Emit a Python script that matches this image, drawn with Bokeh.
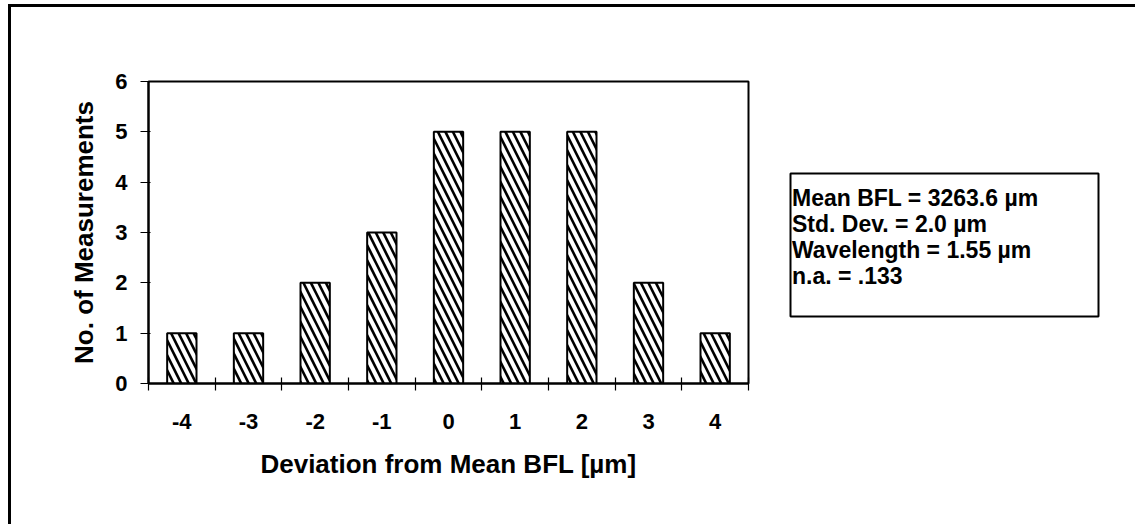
from bokeh.plotting import figure
from bokeh.layouts import row
from bokeh.models import FixedTicker, Range1d, ColumnDataSource
from bokeh.core.properties import value
from bokeh.embed import file_html
from bokeh.resources import INLINE

# Histogram of back focal length deviations
deviations = [-4, -3, -2, -1, 0, 1, 2, 3, 4]
counts = [1, 1, 2, 3, 5, 5, 5, 2, 1]
bin_edges = [-4.5, -3.5, -2.5, -1.5, -0.5, 0.5, 1.5, 2.5, 3.5, 4.5]
y_ticks = [0, 1, 2, 3, 4, 5, 6]
stats_lines = [
    "Mean BFL = 3263.6 \u00b5m",
    "Std. Dev. = 2.0 \u00b5m",
    "Wavelength = 1.55 \u00b5m",
    "n.a. = .133",
]
x_title = "Deviation from Mean BFL [\u00b5m]"
y_title = "No. of Measurements"

FONT = "Liberation Sans"

# main chart canvas and frame geometry (pixels)
W, H = 769, 517
FL, FR, FT, FB = 137, 737, 74, 376

p = figure(
    width=W, height=H,
    x_range=Range1d(-4.5, 4.5), y_range=Range1d(0, 6),
    output_backend="svg", toolbar_location=None,
    min_border_left=FL, min_border_right=W - FR,
    min_border_top=FT, min_border_bottom=H - FB,
)
p.background_fill_color = "white"
p.border_fill_color = "white"
p.outline_line_color = "black"
p.outline_line_width = 2
p.xgrid.grid_line_color = None
p.ygrid.grid_line_color = None

p.vbar(
    x=deviations, top=counts, bottom=0, width=0.44,
    fill_color="white", line_color="black", line_width=2,
    hatch_pattern="\\", hatch_color="black", hatch_scale=15, hatch_weight=2.6,
)

# x axis: labels at bin centres, tick marks at bin edges
xa = p.xaxis[0]
xa.ticker = FixedTicker(ticks=deviations, minor_ticks=bin_edges)
xa.major_label_overrides = {d: str(d) for d in deviations}
xa.major_tick_line_color = None
xa.major_tick_in = 0
xa.major_tick_out = 0
xa.minor_tick_line_color = "black"
xa.minor_tick_line_width = 1.2
xa.minor_tick_in = 6
xa.minor_tick_out = 7
xa.axis_line_width = 2
xa.axis_line_color = "black"
xa.major_label_standoff = 23
xa.major_label_text_font = FONT
xa.major_label_text_font_style = "bold"
xa.major_label_text_font_size = "22px"
xa.major_label_text_color = "black"
xa.axis_label = x_title
xa.axis_label_text_font = FONT
xa.axis_label_text_font_style = "bold"
xa.axis_label_text_font_size = "26px"
xa.axis_label_text_color = "black"
xa.axis_label_standoff = 17

ya = p.yaxis[0]
ya.ticker = FixedTicker(ticks=y_ticks, minor_ticks=[])
ya.major_tick_line_color = "black"
ya.major_tick_line_width = 1.2
ya.major_tick_in = 2
ya.major_tick_out = 8
ya.axis_line_width = 2
ya.axis_line_color = "black"
ya.major_label_standoff = 13
ya.major_label_text_font = FONT
ya.major_label_text_font_style = "bold"
ya.major_label_text_font_size = "22px"
ya.major_label_text_color = "black"
ya.axis_label = y_title
ya.axis_label_text_font = FONT
ya.axis_label_text_font_style = "bold"
ya.axis_label_text_font_size = "26px"
ya.axis_label_text_color = "black"
ya.axis_label_standoff = 13

# statistics panel to the right; its frame shares the chart's top and bottom
# borders and is measured in pixels from the frame's top-left corner
SW = 1135 - 11 - W
s = figure(
    width=SW, height=H,
    x_range=Range1d(0, SW), y_range=Range1d(FB - FT, 0),
    output_backend="svg", toolbar_location=None,
    x_axis_location=None, y_axis_location=None,
    min_border_left=0, min_border_right=0,
    min_border_top=FT, min_border_bottom=H - FB,
)
s.background_fill_color = "white"
s.border_fill_color = "white"
s.outline_line_color = None
s.grid.visible = False

# box outline
s.quad(left=[10], right=[318], top=[92], bottom=[235],
       fill_color=None, line_color="black", line_width=2)

line_x = [11.5, 11.5, 11.5, 11.5]
line_baseline = [116, 142, 168, 194]
s.text(
    x="x", y="y", text="text",
    source=ColumnDataSource(dict(x=line_x, y=line_baseline, text=stats_lines)),
    text_font=value(FONT), text_font_style="bold", text_font_size="23px",
    text_color="black", text_baseline="alphabetic", text_align="left",
)

page = row(
    p, s,
    margin=(4, 0, 0, 8),
    styles={"border-top": "3px solid black", "border-left": "3px solid black"},
)

open("out.html", "w").write(file_html(page, INLINE))
